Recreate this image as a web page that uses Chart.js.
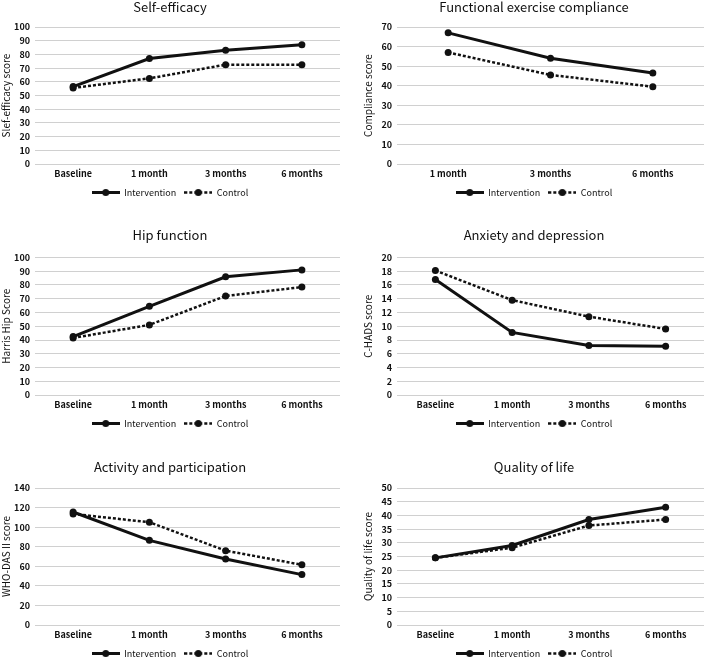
<!DOCTYPE html>
<html>
<head>
<meta charset="utf-8">
<script src="https://cdn.jsdelivr.net/npm/chart.js@4.4.1/dist/chart.umd.min.js"></script>
<style>
  html, body { margin: 0; padding: 0; background: #fff; overflow: hidden; }
  #wrap { position: relative; width: 708px; height: 660px; }
  canvas { position: absolute; }
</style>
</head>
<body>
<div id="wrap">
  <canvas id="c1"></canvas>
  <canvas id="c2"></canvas>
  <canvas id="c3"></canvas>
  <canvas id="c4"></canvas>
  <canvas id="c5"></canvas>
  <canvas id="c6"></canvas>
</div>
<script>
  // ---- data ----
  const timepoints = ['Baseline', '1 month', '3 months', '6 months'];
  const followUps = ['1 month', '3 months', '6 months'];
  const seriesNames = ['Intervention', 'Control'];

  const selfEfficacyInt = [56.5, 77, 83, 87];
  const selfEfficacyCtl = [55.5, 62.5, 72.5, 72.5];

  const complianceInt = [67, 54, 46.5];
  const complianceCtl = [57, 45.5, 39.5];

  const hipInt = [42.5, 64.5, 86, 91];
  const hipCtl = [41.5, 51, 72, 78.5];

  const hadsInt = [16.8, 9.1, 7.2, 7.1];
  const hadsCtl = [18.1, 13.8, 11.4, 9.6];

  const whodasInt = [115.5, 86.5, 67.5, 51.5];
  const whodasCtl = [113.5, 105, 76, 61.5];

  const qolInt = [24.5, 29, 38.5, 43];
  const qolCtl = [24.5, 28.2, 36.3, 38.5];

  const FONT = "'Noto Sans CJK SC', 'Noto Sans', sans-serif";
  const INK = '#111';

  // legend icon: line with a dot in the middle
  function legendIcon(dotted) {
    const c = document.createElement('canvas');
    c.width = 28; c.height = 9;
    const g = c.getContext('2d');
    g.strokeStyle = INK;
    g.lineWidth = dotted ? 2.5 : 3;
    if (dotted) g.setLineDash([3, 2]);
    g.beginPath(); g.moveTo(0, 4.5); g.lineTo(28, 4.5); g.stroke();
    g.setLineDash([]);
    g.fillStyle = INK;
    g.beginPath(); g.arc(14, 4.5, 3.5, 0, Math.PI * 2); g.fill();
    return c;
  }
  const icons = [legendIcon(false), legendIcon(true)];

  function makePanel(p) {
    const canvas = document.getElementById(p.id);
    canvas.width = 354;
    canvas.height = p.h;
    canvas.style.left = p.x + 'px';
    canvas.style.top = p.y + 'px';

    new Chart(canvas, {
      type: 'line',
      data: {
        labels: p.labels,
        datasets: [{
          label: seriesNames[0],
          data: p.int,
          borderColor: INK,
          backgroundColor: INK,
          borderWidth: 3,
          pointRadius: 3.5,
          pointBackgroundColor: INK,
          pointBorderWidth: 0,
          tension: 0,
        }, {
          label: seriesNames[1],
          data: p.ctl,
          borderColor: INK,
          backgroundColor: INK,
          borderWidth: 2.5,
          borderDash: [3, 2],
          pointRadius: 3.5,
          pointBackgroundColor: INK,
          pointBorderWidth: 0,
          tension: 0,
        }],
      },
      options: {
        responsive: false,
        animation: false,
        devicePixelRatio: 1,
        layout: { padding: { left: p.padL, right: p.padR, top: 0, bottom: 0 } },
        plugins: {
          title: {
            display: true,
            text: p.title,
            color: INK,
            font: { family: FONT, size: 13, weight: 'normal' },
            padding: { top: 0, bottom: p.titlePad },
          },
          legend: {
            position: 'bottom',
            labels: {
              color: INK,
              font: { family: FONT, size: 9 },
              usePointStyle: true,
              pointStyleWidth: 28,
              padding: 8,
              generateLabels: function (chart) {
                const items = Chart.defaults.plugins.legend.labels.generateLabels(chart);
                items.forEach(function (it, i) { it.pointStyle = icons[i]; });
                return items;
              },
            },
          },
          tooltip: { enabled: false },
        },
        scales: {
          x: {
            offset: true,
            grid: { display: false, drawTicks: false },
            border: { display: false },
            ticks: { color: INK, padding: 4, maxRotation: 0, autoSkip: false,
                     font: { family: FONT, size: 9, weight: 'bold' } },
            afterFit: function (scale) { scale.height = 16; },
          },
          y: {
            min: 0,
            max: p.max,
            ticks: { stepSize: p.step, autoSkip: false, color: INK, padding: 5,
                     font: { family: FONT, size: 9, weight: 'bold' } },
            grid: { color: '#d0d0d0', lineWidth: 1, drawTicks: false },
            border: { display: false },
            title: {
              display: true,
              text: p.yTitle,
              color: INK,
              padding: { top: 0, bottom: 0 },
              font: { family: FONT, size: 10, weight: 'normal' },
            },
            afterFit: function (scale) { scale.width = 35; },
          },
        },
      },
    });
  }

  makePanel({ id: 'c1', x: 0, y: -1, h: 208, padL: 0, padR: 14, titlePad: 12.4,
    title: 'Self-efficacy', yTitle: 'Slef-efficacy score', labels: timepoints,
    int: selfEfficacyInt, ctl: selfEfficacyCtl, max: 100, step: 10 });
  makePanel({ id: 'c2', x: 354, y: -1, h: 208, padL: 8, padR: 2, titlePad: 12.4,
    title: 'Functional exercise compliance', yTitle: 'Compliance score', labels: followUps,
    int: complianceInt, ctl: complianceCtl, max: 70, step: 10 });
  makePanel({ id: 'c3', x: 0, y: 227, h: 211, padL: 0, padR: 14, titlePad: 14.9,
    title: 'Hip function', yTitle: 'Harris Hip Score', labels: timepoints,
    int: hipInt, ctl: hipCtl, max: 100, step: 10 });
  makePanel({ id: 'c4', x: 354, y: 227, h: 211, padL: 8, padR: 2, titlePad: 14.9,
    title: 'Anxiety and depression', yTitle: 'C-HADS score', labels: timepoints,
    int: hadsInt, ctl: hadsCtl, max: 20, step: 2 });
  makePanel({ id: 'c5', x: 0, y: 459, h: 209, padL: 0, padR: 14, titlePad: 13.4,
    title: 'Activity and participation', yTitle: 'WHO-DAS II score', labels: timepoints,
    int: whodasInt, ctl: whodasCtl, max: 140, step: 20 });
  makePanel({ id: 'c6', x: 354, y: 459, h: 209, padL: 8, padR: 2, titlePad: 13.4,
    title: 'Quality of life', yTitle: 'Quality of life score', labels: timepoints,
    int: qolInt, ctl: qolCtl, max: 50, step: 5 });
</script>
</body>
</html>
